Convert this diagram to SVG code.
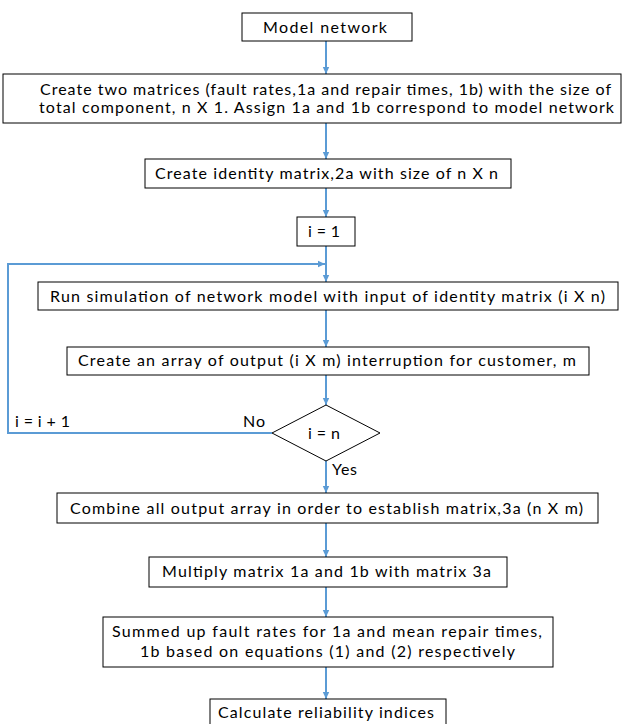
<svg xmlns="http://www.w3.org/2000/svg" width="623" height="724" viewBox="0 0 623 724">
<defs>
<marker id="ah" markerUnits="userSpaceOnUse" markerWidth="8" markerHeight="8" refX="7" refY="4" orient="auto">
<path d="M0,0.8 L7,4 L0,7.2 Z" fill="#5B9BD5"/>
</marker>
</defs>
<style>
.box{fill:#fff;stroke:#000;stroke-width:1}
.t{font-family:Lato,"Liberation Sans",Arial,sans-serif;font-size:16px;fill:#000}
.c{fill:none;stroke:#5B9BD5;stroke-width:2}
</style>
<rect width="623" height="724" fill="#fff"/>
<g id="connectors">
<line class="c" x1="326" y1="41" x2="326" y2="74" marker-end="url(#ah)"/>
<line class="c" x1="326" y1="123" x2="326" y2="159" marker-end="url(#ah)"/>
<line class="c" x1="326" y1="188" x2="326" y2="217" marker-end="url(#ah)"/>
<line class="c" x1="326" y1="246" x2="326" y2="282" marker-end="url(#ah)"/>
<polyline class="c" points="272,433 8,433 8,264 325,264" marker-end="url(#ah)"/>
<line class="c" x1="326" y1="310" x2="326" y2="347" marker-end="url(#ah)"/>
<line class="c" x1="326" y1="375" x2="326" y2="405" marker-end="url(#ah)"/>
<line class="c" x1="326" y1="461" x2="326" y2="493" marker-end="url(#ah)"/>
<line class="c" x1="326" y1="523" x2="326" y2="557" marker-end="url(#ah)"/>
<line class="c" x1="326" y1="587" x2="326" y2="617" marker-end="url(#ah)"/>
<line class="c" x1="326" y1="667" x2="326" y2="699" marker-end="url(#ah)"/>
<text class="t" x="243" y="427" textLength="22">No</text>
<text class="t" x="15" y="427" textLength="55">i = i + 1</text>
<text class="t" x="332" y="475" textLength="25">Yes</text>
</g>
<g id="n1"><rect class="box" x="242" y="13" width="170" height="28"/><text class="t" x="263" y="33" textLength="124">Model network</text></g>
<g id="n2"><rect class="box" x="3" y="74" width="618" height="49"/><text class="t" x="40" y="95" textLength="571">Create two matrices (fault rates,1a and repair times, 1b) with the size of</text><text class="t" x="39" y="113" textLength="575">total component, n X 1. Assign 1a and 1b correspond to model network</text></g>
<g id="n3"><rect class="box" x="145" y="159" width="366" height="29"/><text class="t" x="155" y="179" textLength="343">Create identity matrix,2a with size of n X n</text></g>
<g id="n4"><rect class="box" x="297" y="217" width="58" height="29"/><text class="t" x="308" y="237" textLength="32">i = 1</text></g>
<g id="n5"><rect class="box" x="38" y="282" width="580" height="28"/><text class="t" x="50" y="302" textLength="555">Run simulation of network model with input of identity matrix (i X n)</text></g>
<g id="n6"><rect class="box" x="67" y="347" width="522" height="28"/><text class="t" x="78" y="366" textLength="498">Create an array of output (i X m) interruption for customer, m</text></g>
<g id="n7"><polygon class="box" points="326,405 380,433 326,461 272,433"/><text class="t" x="308" y="439" textLength="32">i = n</text></g>
<g id="n8"><rect class="box" x="57" y="493" width="541" height="30"/><text class="t" x="70" y="514" textLength="513">Combine all output array in order to establish matrix,3a (n X m)</text></g>
<g id="n9"><rect class="box" x="149" y="557" width="358" height="30"/><text class="t" x="162" y="577" textLength="329">Multiply matrix 1a and 1b with matrix 3a</text></g>
<g id="n10"><rect class="box" x="103" y="617" width="450" height="50"/><text class="t" x="112" y="637" textLength="430">Summed up fault rates for 1a and mean repair times,</text><text class="t" x="140" y="657" textLength="375">1b based on equations (1) and (2) respectively</text></g>
<g id="n11"><rect class="box" x="210" y="699" width="236" height="30"/><text class="t" x="218" y="718" textLength="216">Calculate reliability indices</text></g>
</svg>
